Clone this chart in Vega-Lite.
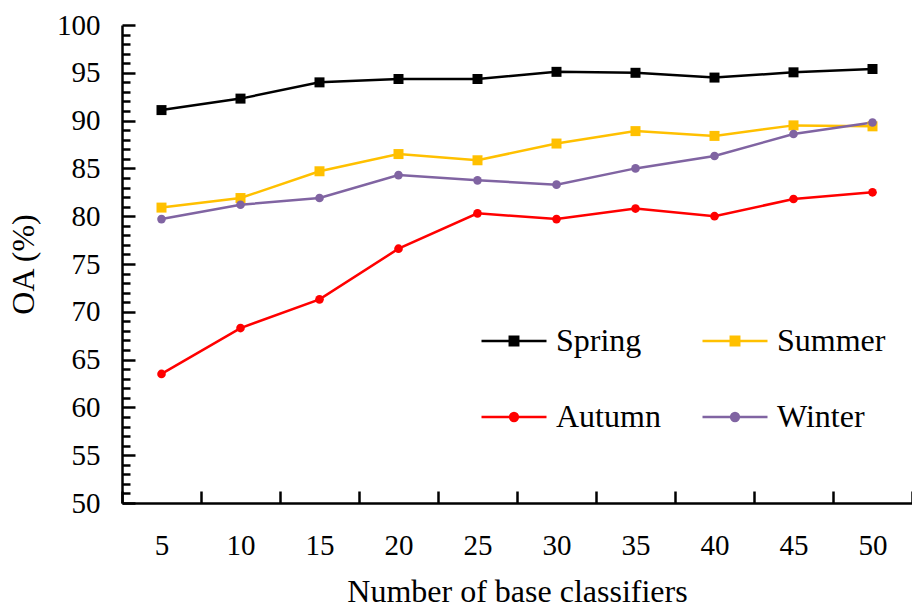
{
  "$schema": "https://vega.github.io/schema/vega-lite/v6.json",
  "width": 790,
  "height": 478,
  "autosize": {"type": "none"},
  "padding": {"left": 122, "top": 25, "right": 0, "bottom": 104},
  "background": "white",
  "config": {
    "view": {"stroke": null},
    "font": "Liberation Serif"
  },
  "data": {
    "values": [
      {"n": 5, "season": "Spring", "oa": 91.1},
      {"n": 10, "season": "Spring", "oa": 92.3},
      {"n": 15, "season": "Spring", "oa": 94.0},
      {"n": 20, "season": "Spring", "oa": 94.35},
      {"n": 25, "season": "Spring", "oa": 94.35},
      {"n": 30, "season": "Spring", "oa": 95.1},
      {"n": 35, "season": "Spring", "oa": 95.0},
      {"n": 40, "season": "Spring", "oa": 94.5},
      {"n": 45, "season": "Spring", "oa": 95.05},
      {"n": 50, "season": "Spring", "oa": 95.4},
      {"n": 5, "season": "Summer", "oa": 80.9},
      {"n": 10, "season": "Summer", "oa": 81.9},
      {"n": 15, "season": "Summer", "oa": 84.7},
      {"n": 20, "season": "Summer", "oa": 86.5},
      {"n": 25, "season": "Summer", "oa": 85.85},
      {"n": 30, "season": "Summer", "oa": 87.6},
      {"n": 35, "season": "Summer", "oa": 88.9},
      {"n": 40, "season": "Summer", "oa": 88.4},
      {"n": 45, "season": "Summer", "oa": 89.5},
      {"n": 50, "season": "Summer", "oa": 89.4},
      {"n": 5, "season": "Autumn", "oa": 63.5},
      {"n": 10, "season": "Autumn", "oa": 68.3},
      {"n": 15, "season": "Autumn", "oa": 71.3},
      {"n": 20, "season": "Autumn", "oa": 76.6},
      {"n": 25, "season": "Autumn", "oa": 80.3},
      {"n": 30, "season": "Autumn", "oa": 79.7},
      {"n": 35, "season": "Autumn", "oa": 80.8},
      {"n": 40, "season": "Autumn", "oa": 80.0},
      {"n": 45, "season": "Autumn", "oa": 81.8},
      {"n": 50, "season": "Autumn", "oa": 82.5},
      {"n": 5, "season": "Winter", "oa": 79.7},
      {"n": 10, "season": "Winter", "oa": 81.2},
      {"n": 15, "season": "Winter", "oa": 81.9},
      {"n": 20, "season": "Winter", "oa": 84.3},
      {"n": 25, "season": "Winter", "oa": 83.75},
      {"n": 30, "season": "Winter", "oa": 83.3},
      {"n": 35, "season": "Winter", "oa": 85.0},
      {"n": 40, "season": "Winter", "oa": 86.3},
      {"n": 45, "season": "Winter", "oa": 88.6},
      {"n": 50, "season": "Winter", "oa": 89.8}
    ]
  },
  "encoding": {
    "x": {
      "field": "n",
      "type": "ordinal",
      "sort": "ascending",
      "scale": {"paddingInner": 0, "paddingOuter": 0},
      "axis": {
        "title": "Number of base classifiers",
        "titleFont": "Liberation Serif",
        "titleFontSize": 32,
        "titleFontWeight": "normal",
        "titleColor": "black",
        "titlePadding": 16,
        "labelFont": "Liberation Serif",
        "labelFontSize": 29,
        "labelColor": "black",
        "labelAngle": 0,
        "labelPadding": 40,
        "tickBand": "extent",
        "tickSize": -12,
        "tickWidth": 2.5,
        "tickColor": "black",
        "domainColor": "black",
        "domainWidth": 2.5,
        "grid": false
      }
    },
    "y": {
      "field": "oa",
      "type": "quantitative",
      "scale": {"domain": [50, 100], "nice": false, "zero": false},
      "axis": {
        "title": "OA (%)",
        "titleFont": "Liberation Serif",
        "titleFontSize": 32,
        "titleFontWeight": "normal",
        "titleColor": "black",
        "titlePadding": 16,
        "values": [50,51,52,53,54,55,56,57,58,59,60,61,62,63,64,65,66,67,68,69,70,71,72,73,74,75,76,77,78,79,80,81,82,83,84,85,86,87,88,89,90,91,92,93,94,95,96,97,98,99,100],
        "labelExpr": "datum.value % 5 === 0 ? datum.label : ''",
        "labelOverlap": false,
        "labelFont": "Liberation Serif",
        "labelFontSize": 29,
        "labelColor": "black",
        "labelPadding": 35,
        "tickSize": {"condition": {"test": "datum.value % 5 === 0", "value": -13}, "value": -8},
        "tickWidth": 2.5,
        "tickColor": "black",
        "domainColor": "black",
        "domainWidth": 2.5,
        "grid": false
      }
    },
    "color": {
      "field": "season",
      "type": "nominal",
      "scale": {
        "domain": ["Spring", "Summer", "Autumn", "Winter"],
        "range": ["#000000", "#FFC000", "#FF0000", "#8064A2"]
      },
      "legend": {
        "title": null,
        "orient": "none",
        "legendX": 358,
        "legendY": 282,
        "columns": 2,
        "direction": "horizontal",
        "padding": 0,
        "columnPadding": 36,
        "rowPadding": 26,
        "labelFont": "Liberation Serif",
        "labelFontSize": 32,
        "labelColor": "black",
        "labelOffset": 8,
        "symbolSize": 4225,
        "symbolStrokeWidth": 2.5,
        "encode": {
          "symbols": {
            "update": {
              "shape": {"signal": "datum.value === 'Spring' || datum.value === 'Summer' ? 'M-1,0H1M-0.13,-0.13H0.13V0.13H-0.13Z' : 'M-1,0H1M0.12,0A0.12,0.12 0 1 1 -0.12,0A0.12,0.12 0 1 1 0.12,0Z'"},
              "fill": {"scale": "color", "field": "value"},
              "stroke": {"scale": "color", "field": "value"},
              "strokeWidth": {"value": 2.5},
              "opacity": {"value": 1}
            }
          }
        }
      }
    }
  },
  "layer": [
    {
      "mark": {"type": "line", "strokeWidth": 2.5}
    },
    {
      "transform": [{"filter": "datum.season === 'Spring' || datum.season === 'Summer'"}],
      "mark": {"type": "point", "shape": "square", "filled": true, "opacity": 1, "size": 100}
    },
    {
      "transform": [{"filter": "datum.season === 'Autumn' || datum.season === 'Winter'"}],
      "mark": {"type": "point", "shape": "circle", "filled": true, "opacity": 1, "size": 75}
    }
  ]
}
